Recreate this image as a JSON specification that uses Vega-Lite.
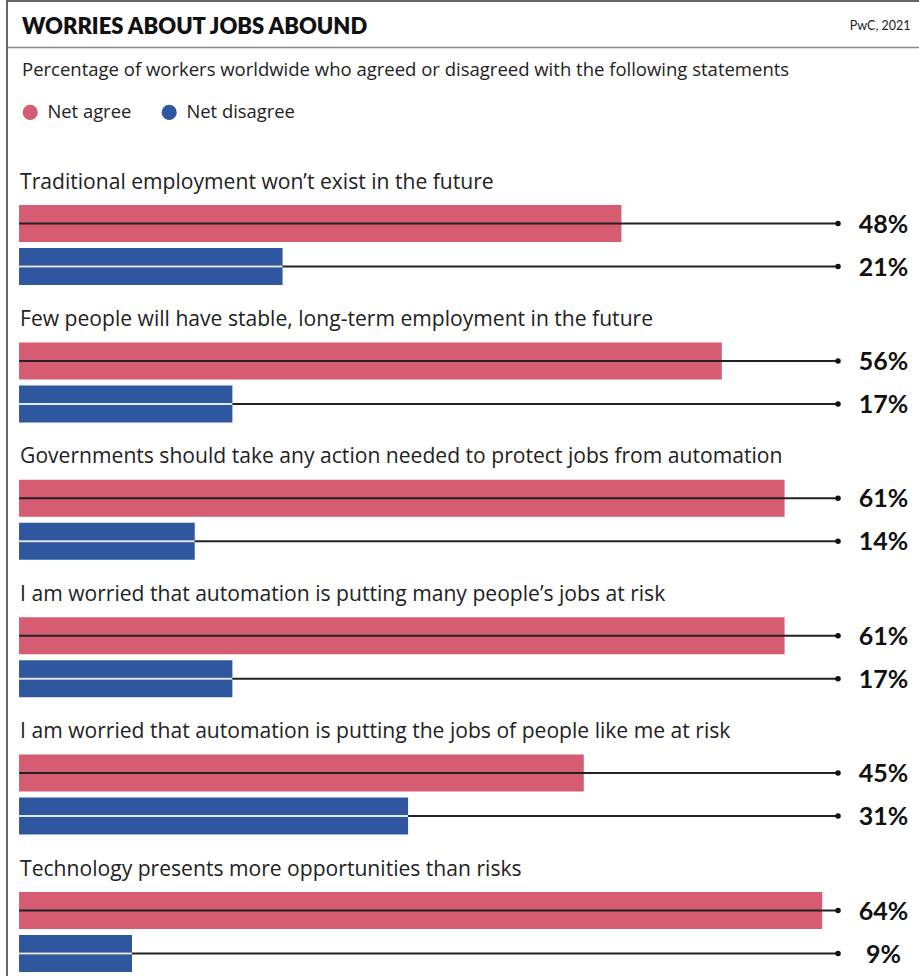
{
  "$schema": "https://vega.github.io/schema/vega-lite/v6.json",
  "width": 918,
  "height": 980,
  "autosize": {"type": "none"},
  "padding": {"left": 7, "top": 1, "right": -6, "bottom": -5},
  "background": "white",
  "config": {"view": {"stroke": "#333", "strokeWidth": 1.5}, "font": "Open Sans"},
  "title": {
    "text": "WORRIES ABOUT JOBS ABOUND",
    "subtitle": "Percentage of workers worldwide who agreed or disagreed with the following statements",
    "anchor": "start",
    "frame": "group",
    "offset": 0,
    "dx": 15,
    "dy": 79,
    "font": "Lato",
    "fontSize": 22,
    "fontWeight": 800,
    "color": "#111",
    "subtitleFont": "Open Sans",
    "subtitleFontSize": 18.5,
    "subtitleColor": "#222",
    "subtitlePadding": 22
  },
  "data": {
    "values": [
      {"statement": "Traditional employment won’t exist in the future", "type": "Net agree", "value": 0.48},
      {"statement": "Traditional employment won’t exist in the future", "type": "Net disagree", "value": 0.21},
      {"statement": "Few people will have stable, long-term employment in the future", "type": "Net agree", "value": 0.56},
      {"statement": "Few people will have stable, long-term employment in the future", "type": "Net disagree", "value": 0.17},
      {"statement": "Governments should take any action needed to protect jobs from automation", "type": "Net agree", "value": 0.61},
      {"statement": "Governments should take any action needed to protect jobs from automation", "type": "Net disagree", "value": 0.14},
      {"statement": "I am worried that automation is putting many people’s jobs at risk", "type": "Net agree", "value": 0.61},
      {"statement": "I am worried that automation is putting many people’s jobs at risk", "type": "Net disagree", "value": 0.17},
      {"statement": "I am worried that automation is putting the jobs of people like me at risk", "type": "Net agree", "value": 0.45},
      {"statement": "I am worried that automation is putting the jobs of people like me at risk", "type": "Net disagree", "value": 0.31},
      {"statement": "Technology presents more opportunities than risks", "type": "Net agree", "value": 0.64},
      {"statement": "Technology presents more opportunities than risks", "type": "Net disagree", "value": 0.09}
    ]
  },
  "encoding": {
    "y": {
      "field": "statement",
      "type": "nominal",
      "sort": null,
      "axis": null,
      "scale": {"range": [153.8, 978.2], "paddingInner": 0, "paddingOuter": 0}
    }
  },
  "layer": [
    {
      "transform": [{"filter": "datum.type === 'Net agree'"}],
      "mark": {"type": "bar", "height": 37},
      "encoding": {
        "x": {
          "field": "value",
          "type": "quantitative",
          "stack": null,
          "scale": {"domain": [-0.0096, 0.7219], "nice": false, "zero": false},
          "axis": {
            "orient": "top",
            "offset": -46,
            "domain": true,
            "domainColor": "#8a8a8a",
            "domainWidth": 1.5,
            "labels": false,
            "ticks": false,
            "grid": false,
            "title": "PwC, 2021",
            "titleX": 903,
            "titleY": -22,
            "titleAlign": "right",
            "titleBaseline": "middle",
            "titleAngle": 0,
            "titleFont": "Lato",
            "titleFontSize": 12.5,
            "titleFontWeight": "normal",
            "titleColor": "#222"
          }
        },
        "color": {
          "field": "type",
          "type": "nominal",
          "scale": {"domain": ["Net agree", "Net disagree"], "range": ["#d65c71", "#2e57a0"]},
          "legend": {
            "title": null,
            "orient": "none",
            "legendX": 14,
            "legendY": 102,
            "direction": "horizontal",
            "symbolType": "circle",
            "symbolSize": 230,
            "symbolStrokeWidth": 0,
            "symbolOpacity": 1,
            "labelFont": "Open Sans",
            "labelFontSize": 18.4,
            "labelColor": "#222",
            "labelOffset": 8,
            "columnPadding": 28,
            "padding": 0
          }
        }
      }
    },
    {
      "transform": [{"filter": "datum.type === 'Net disagree'"}],
      "mark": {"type": "bar", "height": 37, "yOffset": 43},
      "encoding": {
        "x": {"field": "value", "type": "quantitative", "stack": null},
        "color": {"field": "type", "type": "nominal"}
      }
    },
    {
      "transform": [{"filter": "datum.type === 'Net agree'"}],
      "mark": {"type": "bar", "height": 2, "color": "#222"},
      "encoding": {"x": {"datum": 0.6526}}
    },
    {
      "transform": [{"filter": "datum.type === 'Net disagree'"}],
      "mark": {"type": "bar", "height": 2, "color": "#222", "yOffset": 43},
      "encoding": {"x": {"datum": 0.6526}}
    },
    {
      "transform": [{"filter": "datum.type === 'Net disagree'"}],
      "mark": {"type": "bar", "height": 2, "color": "#e4eaf5", "yOffset": 43},
      "encoding": {"x": {"field": "value", "type": "quantitative", "stack": null}}
    },
    {
      "transform": [{"filter": "datum.type === 'Net agree'"}],
      "mark": {"type": "point", "filled": true, "size": 30, "color": "#111", "opacity": 1},
      "encoding": {"x": {"datum": 0.6526}}
    },
    {
      "transform": [{"filter": "datum.type === 'Net disagree'"}],
      "mark": {"type": "point", "filled": true, "size": 30, "color": "#111", "opacity": 1, "yOffset": 43},
      "encoding": {"x": {"datum": 0.6526}}
    },
    {
      "transform": [{"filter": "datum.type === 'Net agree'"}],
      "mark": {"type": "text", "align": "center", "baseline": "middle", "dy": 1, "fontSize": 25, "fontWeight": "bold", "font": "Lato", "color": "#111"},
      "encoding": {
        "x": {"datum": 0.6888},
        "text": {"field": "value", "type": "quantitative", "format": ".0%"}
      }
    },
    {
      "transform": [{"filter": "datum.type === 'Net disagree'"}],
      "mark": {"type": "text", "align": "center", "baseline": "middle", "dy": 44, "fontSize": 25, "fontWeight": "bold", "font": "Lato", "color": "#111"},
      "encoding": {
        "x": {"datum": 0.6888},
        "text": {"field": "value", "type": "quantitative", "format": ".0%"}
      }
    },
    {
      "transform": [{"filter": "datum.type === 'Net agree'"}],
      "mark": {"type": "text", "align": "left", "baseline": "alphabetic", "dx": 1, "dy": -35, "fontSize": 21.1, "font": "Open Sans", "color": "#222"},
      "encoding": {
        "x": {"datum": 0},
        "text": {"field": "statement"}
      }
    }
  ]
}
